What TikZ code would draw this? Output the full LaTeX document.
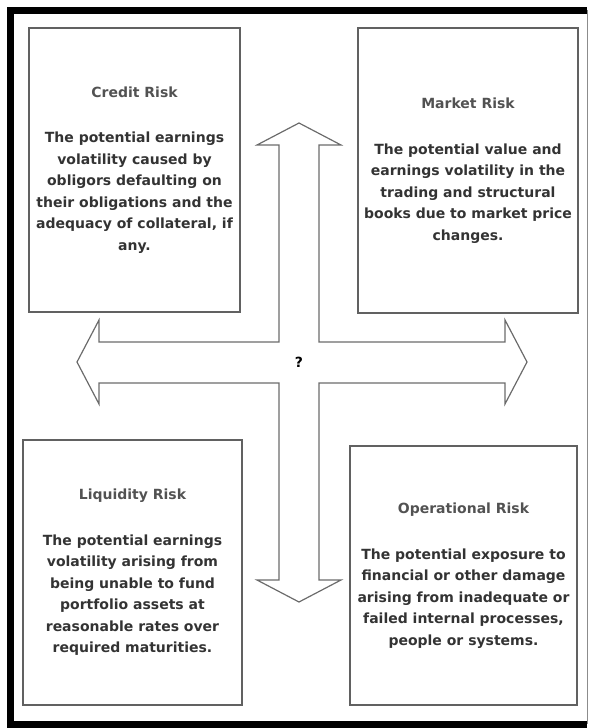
\documentclass[tikz,border=0pt]{standalone}
\usepackage{fontspec}
\setmainfont{DejaVu Sans}
\begin{document}
\begin{tikzpicture}[x=1pt,y=-1pt,
        riskbox/.style={draw=black!62,line width=1.4,align=center,inner sep=2pt,
            text=black!80,font=\fontsize{14}{21.5}\selectfont\bfseries},
        risktitle/.style={text=black!68},
        crossline/.style={draw=black!58,line width=1.2,line join=miter}]
    \useasboundingbox (0,0) rectangle (592,728);
    % frame
    \draw[line width=7] (587,10) -- (10,10) -- (10,724) -- (587,724);
    \draw[black!45,line width=1] (587,10) -- (587,724);
    % the four risks
    \node[riskbox,minimum width=211,minimum height=284] (credit) at (134.5,170)
        {\textcolor{black!68}{Credit Risk}\\[24pt]
         The potential earnings\\ volatility caused by\\ obligors defaulting on\\
         their obligations and the\\ adequacy of collateral, if\\ any.};
    \node[riskbox,minimum width=220,minimum height=285] (market) at (468,170.5)
        {\textcolor{black!68}{Market Risk}\\[24pt]
         The potential value and\\ earnings volatility in the\\ trading and structural\\
         books due to market price\\ changes.};
    \node[riskbox,minimum width=219,minimum height=265] (liquidity) at (132.5,572.5)
        {\textcolor{black!68}{Liquidity Risk}\\[24pt]
         The potential earnings\\ volatility arising from\\ being unable to fund\\
         portfolio assets at\\ reasonable rates over\\ required maturities.};
    \node[riskbox,minimum width=227,minimum height=259] (operational) at (463.5,575.5)
        {\textcolor{black!68}{Operational Risk}\\[24pt]
         The potential exposure to\\ financial or other damage\\ arising from inadequate or\\
         failed internal processes,\\ people or systems.};
    % centre and the cross arrow
    \node[font=\fontsize{14}{14}\selectfont\bfseries,inner sep=1pt] (q) at (299,362) {?};
    \draw[crossline,shift={(q.center)}]
        (0,-239) -- (42,-217) -- (20,-217) -- (20,-20) -- (206,-20) -- (206,-42)
        -- (228,0) -- (206,42) -- (206,21) -- (20,21) -- (20,218) -- (42,218)
        -- (0,240) -- (-42,218) -- (-20,218) -- (-20,21) -- (-200,21) -- (-200,42)
        -- (-222,0) -- (-200,-42) -- (-200,-20) -- (-20,-20) -- (-20,-217)
        -- (-42,-217) -- cycle;
\end{tikzpicture}
\end{document}
